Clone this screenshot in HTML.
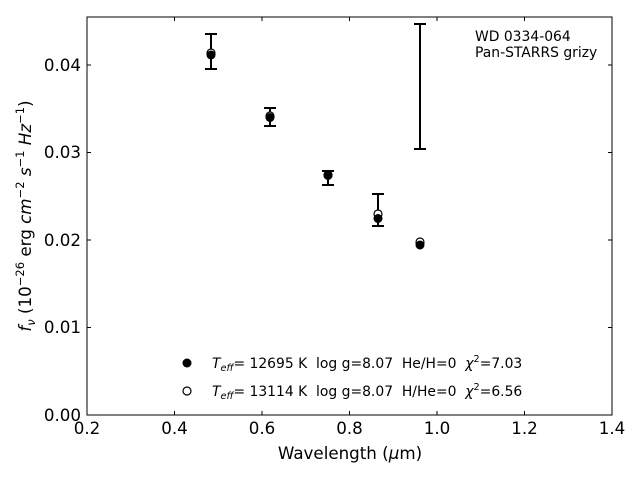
<!DOCTYPE html>
<html><head><meta charset="utf-8"><style>body{margin:0;background:#fff}svg{display:block}text{white-space:pre}</style></head><body>
<svg width="640" height="480" xmlns="http://www.w3.org/2000/svg" font-family="DejaVu Sans, Liberation Sans, sans-serif" xml:space="preserve">
<rect width="640" height="480" fill="#fff"/>
<g stroke="#000" stroke-width="1">
<line x1="87" y1="415" x2="87" y2="411"/><line x1="174.5" y1="415" x2="174.5" y2="411"/><line x1="262" y1="415" x2="262" y2="411"/><line x1="349.5" y1="415" x2="349.5" y2="411"/><line x1="437" y1="415" x2="437" y2="411"/><line x1="524.5" y1="415" x2="524.5" y2="411"/><line x1="612" y1="415" x2="612" y2="411"/>
<line x1="87" y1="17" x2="87" y2="21"/><line x1="174.5" y1="17" x2="174.5" y2="21"/><line x1="262" y1="17" x2="262" y2="21"/><line x1="349.5" y1="17" x2="349.5" y2="21"/><line x1="437" y1="17" x2="437" y2="21"/><line x1="524.5" y1="17" x2="524.5" y2="21"/>
<line x1="87" y1="327.5" x2="91" y2="327.5"/><line x1="87" y1="240" x2="91" y2="240"/><line x1="87" y1="152.5" x2="91" y2="152.5"/><line x1="87" y1="65" x2="91" y2="65"/>
<line x1="612" y1="327.5" x2="608" y2="327.5"/><line x1="612" y1="240" x2="608" y2="240"/><line x1="612" y1="152.5" x2="608" y2="152.5"/><line x1="612" y1="65" x2="608" y2="65"/>
<rect x="87" y="17" width="525" height="398" fill="none"/>
</g>
<g font-size="16.7" fill="#000" text-anchor="middle">
<text x="87" y="434">0.2</text><text x="174.5" y="434">0.4</text><text x="262" y="434">0.6</text><text x="349.5" y="434">0.8</text><text x="437" y="434">1.0</text><text x="524.5" y="434">1.2</text><text x="612" y="434">1.4</text>
</g>
<g font-size="16.7" fill="#000" text-anchor="end">
<text x="81" y="421">0.00</text><text x="81" y="333">0.01</text><text x="81" y="246">0.02</text><text x="81" y="158">0.03</text><text x="81" y="71">0.04</text>
</g>
<text x="350" y="459" font-size="16.7" text-anchor="middle">Wavelength (<tspan font-style="italic">μ</tspan>m)</text>
<text transform="translate(31,216) rotate(-90)" font-size="16.7" text-anchor="middle"><tspan font-style="italic">f</tspan><tspan font-style="italic" font-size="11.5" dy="4">ν</tspan><tspan dy="-4"> (10</tspan><tspan font-size="11.5" dy="-7">−26</tspan><tspan dy="7"> erg </tspan><tspan font-style="italic">cm</tspan><tspan font-size="11.5" dy="-7">−2</tspan><tspan dy="7"> </tspan><tspan font-style="italic">s</tspan><tspan font-size="11.5" dy="-7">−1</tspan><tspan dy="7"> </tspan><tspan font-style="italic">Hz</tspan><tspan font-size="11.5" dy="-7">−1</tspan><tspan dy="7">)</tspan></text>
<g stroke="#000" stroke-width="2">
<line x1="211" y1="34" x2="211" y2="69"/><line x1="205" y1="34" x2="217" y2="34"/><line x1="205" y1="69" x2="217" y2="69"/>
<line x1="270" y1="108" x2="270" y2="126"/><line x1="264" y1="108" x2="276" y2="108"/><line x1="264" y1="126" x2="276" y2="126"/>
<line x1="328" y1="171" x2="328" y2="185"/><line x1="322" y1="171" x2="334" y2="171"/><line x1="322" y1="185" x2="334" y2="185"/>
<line x1="378" y1="194" x2="378" y2="226"/><line x1="372" y1="194" x2="384" y2="194"/><line x1="372" y1="226" x2="384" y2="226"/>
<line x1="420" y1="24" x2="420" y2="149"/><line x1="414" y1="24" x2="426" y2="24"/><line x1="414" y1="149" x2="426" y2="149"/>
</g>
<g fill="#fff" stroke="#000" stroke-width="1.2">
<circle cx="211" cy="53" r="4"/><circle cx="270" cy="116" r="4"/><circle cx="328" cy="175" r="4"/><circle cx="378" cy="214" r="4"/><circle cx="420" cy="242" r="4"/>
</g>
<g fill="#000">
<circle cx="211" cy="55" r="4.5"/><circle cx="270" cy="117.5" r="4.5"/><circle cx="328" cy="175.5" r="4.5"/><circle cx="378" cy="218.5" r="4.5"/><circle cx="420" cy="245" r="4.5"/>
</g>
<g font-size="13.9" fill="#000">
<text x="475" y="41">WD 0334-064</text>
<text x="475" y="57">Pan-STARRS grizy</text>
</g>
<circle cx="187" cy="363" r="4.5" fill="#000"/>
<circle cx="187" cy="391" r="4" fill="#fff" stroke="#000" stroke-width="1.2"/>
<g font-size="13.9" fill="#000">
<text x="212" y="368"><tspan font-style="italic">T</tspan><tspan font-style="italic" font-size="9.7" dy="3">eff</tspan><tspan dy="-3">= 12695 K  log g=8.07  He/H=0  </tspan><tspan font-style="italic">χ</tspan><tspan font-size="9.7" dy="-6">2</tspan><tspan dy="6">=7.03</tspan></text>
<text x="212" y="396"><tspan font-style="italic">T</tspan><tspan font-style="italic" font-size="9.7" dy="3">eff</tspan><tspan dy="-3">= 13114 K  log g=8.07  H/He=0  </tspan><tspan font-style="italic">χ</tspan><tspan font-size="9.7" dy="-6">2</tspan><tspan dy="6">=6.56</tspan></text>
</g>
</svg>
</body></html>
